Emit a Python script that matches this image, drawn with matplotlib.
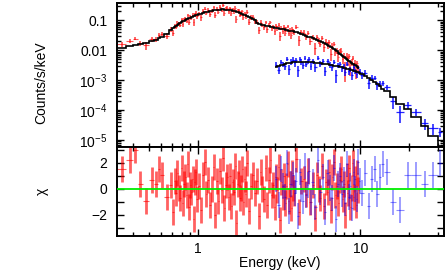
import numpy as np
import matplotlib
matplotlib.use('Agg')
from matplotlib import pyplot as plt
from matplotlib import ticker

plt.rcParams['font.family'] = ['Liberation Sans', 'DejaVu Sans']
plt.rcParams['mathtext.fontset'] = 'custom'
plt.rcParams['mathtext.rm'] = 'Liberation Sans'
plt.rcParams['mathtext.it'] = 'Liberation Sans:italic'

# --- red spectrum (soft instrument), bin edges in keV ---
red_edges = [0.32, 0.365, 0.40, 0.428, 0.46, 0.505, 0.54, 0.57, 0.59, 0.625, 0.665, 0.70,
             0.715, 0.73, 0.745, 0.76, 0.775, 0.79, 0.805, 0.82, 0.835, 0.85,
             0.865, 0.88, 0.895, 0.91, 0.925, 0.94, 0.955, 0.97, 0.985, 1.00,
             1.03, 1.06, 1.09, 1.12, 1.15, 1.18, 1.21, 1.24, 1.27, 1.30, 1.33,
             1.36, 1.39, 1.42, 1.45, 1.48, 1.51, 1.54, 1.57, 1.60, 1.63, 1.66,
             1.69, 1.72, 1.75, 1.78, 1.81, 1.84, 1.87, 1.90, 1.93, 1.96, 1.99,
             2.05, 2.11, 2.17, 2.23, 2.29, 2.35, 2.41, 2.47, 2.53, 2.59, 2.65,
             2.71, 2.77, 2.83, 2.89, 2.95, 3.01, 3.07, 3.13, 3.19, 3.25, 3.31,
             3.37, 3.43, 3.49, 3.55, 3.61, 3.67, 3.73, 3.79, 3.85, 3.91, 3.97,
             4.12, 4.27, 4.42, 4.57, 4.72, 4.87, 5.02, 5.17, 5.32, 5.47, 5.62,
             5.77, 5.92, 6.07, 6.22, 6.37, 6.52, 6.67, 6.82, 6.97, 7.12, 7.27,
             7.42, 7.57, 7.72, 7.87, 8.02, 8.17, 8.32, 8.47, 8.62, 8.77, 8.92,
             9.07, 9.22, 9.37, 9.52, 9.67, 9.82]

red_model = [0.0119, 0.0136, 0.0149, 0.0163, 0.0182, 0.0201, 0.0221, 0.0251, 0.0287, 0.0358, 0.0468,
             0.0552, 0.0607, 0.0654, 0.0703, 0.0755, 0.0809, 0.0867, 0.0927, 0.0991, 0.1038,
             0.1084, 0.1132, 0.1183, 0.1233, 0.1285, 0.1337, 0.1391, 0.1447, 0.1503, 0.1563,
             0.162, 0.169, 0.177, 0.185, 0.192, 0.199, 0.207, 0.214, 0.220, 0.224, 0.228,
             0.231, 0.232, 0.233, 0.233, 0.232, 0.231, 0.228, 0.225, 0.221, 0.217, 0.213,
             0.208, 0.203, 0.197, 0.191, 0.185, 0.178, 0.171, 0.164, 0.158, 0.153, 0.148,
             0.143, 0.133, 0.122, 0.112, 0.100, 0.082, 0.077, 0.074, 0.071, 0.069, 0.067,
             0.065, 0.063, 0.062, 0.060, 0.059, 0.058, 0.056, 0.055, 0.054, 0.053, 0.052,
             0.051, 0.050, 0.049, 0.048, 0.047, 0.046, 0.045, 0.044, 0.0435, 0.043, 0.042,
             0.0400, 0.0374, 0.0352, 0.0331, 0.0310, 0.0289, 0.0270, 0.0253, 0.0238, 0.0223,
             0.0210, 0.0199, 0.0188, 0.0177, 0.0168, 0.0153, 0.0140, 0.0128, 0.0117, 0.0108,
             0.00995, 0.00919, 0.00846, 0.00776, 0.00714, 0.00659, 0.00608, 0.00562, 0.00520,
             0.00483, 0.00448, 0.00416, 0.00387, 0.00361, 0.00337, 0.00314, 0.00294, 0.00275,
             0.00258]

red_chi = [1.5, 2.2, 3.0, 0.4, -0.9, 0.7, 0.4, 1.5, 1.1, -0.6, 0.3,
           -1.8, 0.6, -0.3, 1.2, 0.1, -0.7, 1.6, -1.1, 0.4, 0.9,
           -0.5, 1.9, -1.4, 0.3, -0.2, 0.8, -2.3, 0.5, 1.3, -0.8,
           0.2, -1.6, 1.1, 2.1, -0.4, 0.7, -1.2, 0.0, 1.7, -2.0,
           0.6, -0.9, 1.4, -0.1, 2.4, -1.5, 0.3, 0.9, -0.6, 1.0,
           -1.3, 0.5, -0.2, 1.8, -2.6, 0.4, 1.2, -0.7, 0.1, 1.5,
           -1.0, 0.8, -0.4, 2.0, -1.7, 0.2, 1.1, -0.3, 0.6, -2.1,
           1.3, 0.0, -0.8, 1.6, -1.2, 0.7, 2.2, -0.5, 0.3, -1.4,
           0.9, -0.1, 1.7, -2.4, 0.5, -0.6, 1.0, -1.1, 0.2, 1.9,
           -0.9, 0.4, -1.5, 1.2, 0.1, -0.3, 2.3, -1.8, 0.6, 0.8,
           -0.4, 1.4, -1.0, 0.3, -2.2, 1.1, 0.0, -0.7, 1.8, -1.3,
           0.5, -0.2, 1.3, -1.6, 0.9, 2.1, -0.5, 0.2, -1.1, 0.7,
           1.5, -0.8, 0.4, -2.0, 1.0, -0.3, 1.6, -1.4, 0.1, 2.0,
           -0.6, 0.8, -1.2, 1.2, -0.1]

# relative 1-sigma error of each red bin
red_relerr = [0.22] * 11 + [0.16] * 20 + [0.16] * 33 + [0.18] * 33 + [0.22] * 14 + [0.25] * 13 + [0.28] * 12

# --- blue spectrum (hard instrument) ---
blue_edges = [3.0, 3.1, 3.2, 3.3, 3.4, 3.5, 3.6, 3.7, 3.8, 3.9, 4.0,
              4.1, 4.2, 4.3, 4.4, 4.5, 4.6, 4.7, 4.8, 4.9, 5.0,
              5.2, 5.4, 5.6, 5.8, 6.0, 6.2, 6.4, 6.6, 6.8, 7.0,
              7.2, 7.4, 7.6, 7.8, 8.0, 8.2, 8.4, 8.6, 8.8, 9.0,
              9.2, 9.4, 9.6, 9.8, 10.0, 10.5, 11.0, 11.5, 12.0, 12.5,
              13.0, 13.5, 14.0, 15.2, 16.6, 18.7, 20.6, 23.7, 26.0, 29.9, 32.0]

blue_model = [0.00282, 0.00302, 0.00316, 0.00331, 0.00347, 0.00363, 0.00376, 0.00385, 0.00394, 0.00400,
              0.00406, 0.00409, 0.00411, 0.00412, 0.00411, 0.00409, 0.00407, 0.00405, 0.00402, 0.00398,
              0.00394, 0.00386, 0.00379, 0.00370, 0.00359, 0.00348, 0.00338, 0.00328, 0.00318, 0.00309,
              0.00300, 0.00290, 0.00281, 0.00272, 0.00263, 0.00254, 0.00245, 0.00236, 0.00227, 0.00218,
              0.00209, 0.00201, 0.00192, 0.00184, 0.00176,
              0.00160, 0.00137, 0.00118, 0.00102, 0.000883, 0.000741, 0.000624, 0.000527,
              4.2e-4, 2.8e-4, 1.66e-4, 1.05e-4, 6.0e-5, 3.0e-5, 1.32e-5, 6.3e-6]

blue_chi = [0.8, -1.2, 1.5, 0.2, -0.6, 2.0, -1.7, 0.4, 1.1, -0.3,
            0.6, -2.1, 1.3, 0.0, -0.9, 1.8, -0.5, 0.3, 1.4, -1.0,
            0.5, -1.4, 2.2, -0.2, 0.9, -1.8, 1.2, 0.1, -0.7, 1.6,
            -2.3, 0.4, 1.0, -0.4, 0.7, -1.1, 1.9, -0.6, 0.2, -1.5,
            1.3, 0.0, -0.8, 2.1, 0.6,
            -0.3, 1.2, -1.3, 0.8, 1.5, -0.4, 0.9, 1.9,
            1.3, -1.0, -1.6, 1.1, 1.1, 0.4, 1.1, 2.0]

blue_relerr = [0.22] * 45 + [0.25] * 8 + [0.3, 0.3, 0.3, 0.4, 0.4, 0.5, 0.8, 1.0]


def bin_centres(edges):
    e = np.asarray(edges)
    c = 0.5 * (e[:-1] + e[1:])
    return c, [c - e[:-1], e[1:] - c]


def crosses(ax, x, y, xerr, yerr, color, lw_v, lw_h, alpha):
    # vertical and horizontal parts of the error crosses, drawn separately
    ax.errorbar(x, y, yerr=yerr, fmt='none', ecolor=color, elinewidth=lw_v, alpha=alpha)
    ax.errorbar(x, y, xerr=xerr, fmt='none', ecolor=color, elinewidth=lw_h, alpha=alpha)


red_c, red_xerr = bin_centres(red_edges)
blue_c, blue_xerr = bin_centres(blue_edges)
red_m = np.asarray(red_model)
blue_m = np.asarray(blue_model)
red_flux = red_m * (1 + np.asarray(red_relerr) * np.asarray(red_chi))
blue_flux = blue_m * (1 + np.asarray(blue_relerr) * np.asarray(blue_chi))

fig = plt.figure(figsize=(4.47, 2.73), dpi=100)
ax1 = fig.add_axes([0.2617, 0.4615, 0.7305, 0.5257])
ax2 = fig.add_axes([0.2617, 0.1355, 0.7305, 0.326], sharex=ax1)

# spectrum panel
crosses(ax1, red_c, red_flux, red_xerr, red_m * np.asarray(red_relerr), '#ff0000', 1.3, 0.8, 0.65)
crosses(ax1, blue_c, blue_flux, blue_xerr, blue_m * np.asarray(blue_relerr), '#0000ff', 1.2, 0.9, 0.85)
ax1.stairs(red_model, red_edges, baseline=None, color='k', lw=1.2, zorder=4)
ax1.stairs(blue_model, blue_edges, baseline=None, color='k', lw=1.2, zorder=4)

ax1.set_xscale('log')
ax1.set_yscale('log')
ax1.set_xlim(0.32, 32.5)
ax1.set_ylim(5.8e-6, 0.37)


def count_fmt(v, pos):
    if v >= 0.01:
        return '%g' % v
    return r'$10^{%d}$' % round(np.log10(v))


ax1.yaxis.set_major_locator(ticker.LogLocator(base=10, numticks=20))
ax1.yaxis.set_minor_locator(ticker.LogLocator(base=10, subs=np.arange(2, 10), numticks=20))
ax1.yaxis.set_major_formatter(ticker.FuncFormatter(count_fmt))
ax1.yaxis.set_minor_formatter(ticker.NullFormatter())
ax1.set_ylabel('Counts/s/keV', fontsize=10)
ax1.yaxis.set_label_coords(-0.21, 0.45)

# residual panel
crosses(ax2, red_c, red_chi, red_xerr, 1.0, '#ff0000', 2.0, 0.8, 0.62)
crosses(ax2, blue_c, blue_chi, blue_xerr, 1.0, '#0000ff', 1.2, 0.8, 0.45)
ax2.axhline(0, color='#00ee00', lw=1.3, zorder=5)
ax2.set_ylim(-3.62, 3.23)
ax2.yaxis.set_major_locator(ticker.MultipleLocator(2))
ax2.yaxis.set_minor_locator(ticker.MultipleLocator(1))
ax2.set_ylabel('χ', fontsize=10)
ax2.yaxis.set_label_coords(-0.21, 0.5)

ax2.xaxis.set_major_locator(ticker.LogLocator(base=10, numticks=10))
ax2.xaxis.set_minor_locator(ticker.LogLocator(base=10, subs=np.arange(2, 10), numticks=10))
ax2.xaxis.set_major_formatter(ticker.FuncFormatter(lambda v, p: '%g' % v))
ax2.xaxis.set_minor_formatter(ticker.NullFormatter())
ax2.set_xlabel('Energy (keV)', fontsize=10)
ax2.xaxis.set_label_coords(0.5, -0.225)

for ax in (ax1, ax2):
    ax.tick_params(which='both', direction='in', top=True, right=True,
                   width=1.0, labelsize=10, colors='k')
    ax.tick_params(which='major', length=5)
    ax.tick_params(which='minor', length=3)
    ax.tick_params(axis='y', pad=7)
    ax.tick_params(axis='x', pad=4)
    for s in ax.spines.values():
        s.set_linewidth(1.4)
ax2.tick_params(axis='y', which='minor', length=5)
ax1.tick_params(labelbottom=False)

fig.savefig('out.png', dpi=100)
